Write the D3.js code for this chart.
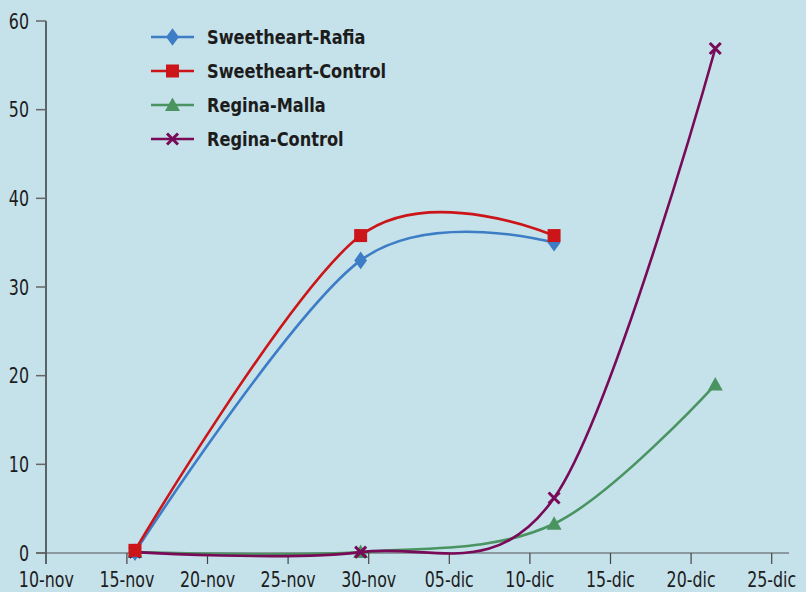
<!DOCTYPE html>
<html>
<head>
<meta charset="utf-8">
<script src="https://cdn.jsdelivr.net/npm/d3@7"></script>
<style>
  html, body { margin: 0; padding: 0; background: #c5e1ea; }
  svg { display: block; }
  text { font-family: "DejaVu Sans Condensed", "DejaVu Sans", sans-serif; fill: #1c1c1c; }
</style>
</head>
<body>
<svg id="chart" width="806" height="592"></svg>
<script>
// Sampling dates (recorded at midday)
const sampleDates = ["2014-11-15T12:00", "2014-11-29T12:00", "2014-12-11T12:00", "2014-12-21T12:00"];
const seriesNames = ["Sweetheart-Rafia", "Sweetheart-Control", "Regina-Malla", "Regina-Control"];
const sweetheartRafia   = [0.1, 33.0, 35.0, null];
const sweetheartControl = [0.3, 35.8, 35.8, null];
const reginaMalla       = [0.1, 0.1, 3.3, 19.0];
const reginaControl     = [0.1, 0.1, 6.2, 56.9];
const xTickDates = ["2014-11-10", "2014-11-15", "2014-11-20", "2014-11-25", "2014-11-30",
                    "2014-12-05", "2014-12-10", "2014-12-15", "2014-12-20", "2014-12-25"];
const xTickLabels = ["10-nov", "15-nov", "20-nov", "25-nov", "30-nov", "05-dic", "10-dic", "15-dic", "20-dic", "25-dic"];
const yTicks = [0, 10, 20, 30, 40, 50, 60];

const colors = ["#3d7dc6", "#cc1518", "#4a9462", "#780a58"];
const markers = ["diamond", "square", "triangle", "cross"];
const allValues = [sweetheartRafia, sweetheartControl, reginaMalla, reginaControl];

const svg = d3.select("#chart");
const parse = s => new Date(s);

const x = d3.scaleTime()
  .domain([parse("2014-11-10T00:00"), parse("2014-12-25T00:00")])
  .range([46.3, 771.7]);
const y = d3.scaleLinear().domain([0, 60]).range([553, 21]);
const xEnd = 789;

// narrow, tall label text
function label(g, tx, ty, str, size, anchor, weight, sx) {
  return g.append("text")
    .attr("transform", `translate(${tx},${ty}) scale(${sx || 0.86},1)`)
    .attr("text-anchor", anchor)
    .attr("font-size", size)
    .attr("font-weight", weight || "normal")
    .text(str);
}

// Y axis
const yAxis = svg.append("g");
yAxis.append("line").attr("x1", 46).attr("x2", 46).attr("y1", y(60)).attr("y2", 564)
  .attr("stroke", "#111").attr("stroke-width", 1.2);
yTicks.forEach(t => {
  yAxis.append("line").attr("x1", 36).attr("x2", 46).attr("y1", y(t)).attr("y2", y(t))
    .attr("stroke", "#666").attr("stroke-width", 1.5);
  label(yAxis, 29, y(t) + 7.5, t, 20.5, "end");
});

// X axis
const xAxis = svg.append("g");
xAxis.append("line").attr("x1", 36).attr("x2", xEnd).attr("y1", y(0)).attr("y2", y(0))
  .attr("stroke", "#555").attr("stroke-width", 1.2);
xTickDates.forEach((d, i) => {
  const px = x(parse(d + "T00:00"));
  if (i > 0) {
    xAxis.append("line").attr("x1", px).attr("x2", px).attr("y1", y(0)).attr("y2", 564)
      .attr("stroke", "#444").attr("stroke-width", 1.2);
  }
  label(xAxis, px, 587, xTickLabels[i], 20.5, "middle");
});

// Marker shapes
function drawMarker(g, type, cx, cy, color) {
  if (type === "diamond") {
    g.append("path").attr("d", d3.symbol(d3.symbolDiamond, 90)()).attr("transform", `translate(${cx},${cy}) scale(1.25,1)`)
      .attr("fill", color);
  } else if (type === "square") {
    g.append("rect").attr("x", cx - 6.5).attr("y", cy - 6.5).attr("width", 13).attr("height", 13).attr("fill", color);
  } else if (type === "triangle") {
    g.append("path").attr("d", `M${cx},${cy - 7.5}L${cx + 7.5},${cy + 6}L${cx - 7.5},${cy + 6}Z`).attr("fill", color);
  } else {
    g.append("path").attr("d", `M${cx - 5.5},${cy - 5.5}L${cx + 5.5},${cy + 5.5}M${cx - 5.5},${cy + 5.5}L${cx + 5.5},${cy - 5.5}`)
      .attr("stroke", color).attr("stroke-width", 3);
  }
}

const line = d3.line()
  .defined(d => d.v != null)
  .x(d => x(d.date))
  .y(d => y(d.v))
  .curve(d3.curveCardinal.tension(0));

// Draw series (Regina first so Sweetheart lines sit on top near the start)
const order = [2, 3, 0, 1];
order.forEach(si => {
  const pts = sampleDates.map((d, i) => ({ date: parse(d), v: allValues[si][i] })).filter(p => p.v != null);
  const g = svg.append("g");
  g.append("path").datum(pts).attr("d", line).attr("fill", "none")
    .attr("stroke", colors[si]).attr("stroke-width", 2.6);
  pts.forEach(p => drawMarker(g, markers[si], x(p.date), y(p.v), colors[si]));
});

// Legend
const legend = svg.append("g");
seriesNames.forEach((name, i) => {
  const ly = 37 + i * 34;
  legend.append("line").attr("x1", 151).attr("x2", 194).attr("y1", ly).attr("y2", ly)
    .attr("stroke", colors[i]).attr("stroke-width", 2.6);
  drawMarker(legend, markers[i], 172.5, ly, colors[i]);
  label(legend, 207, ly + 7.3, name, 20, "start", "bold", 0.9);
});
</script>
</body>
</html>
